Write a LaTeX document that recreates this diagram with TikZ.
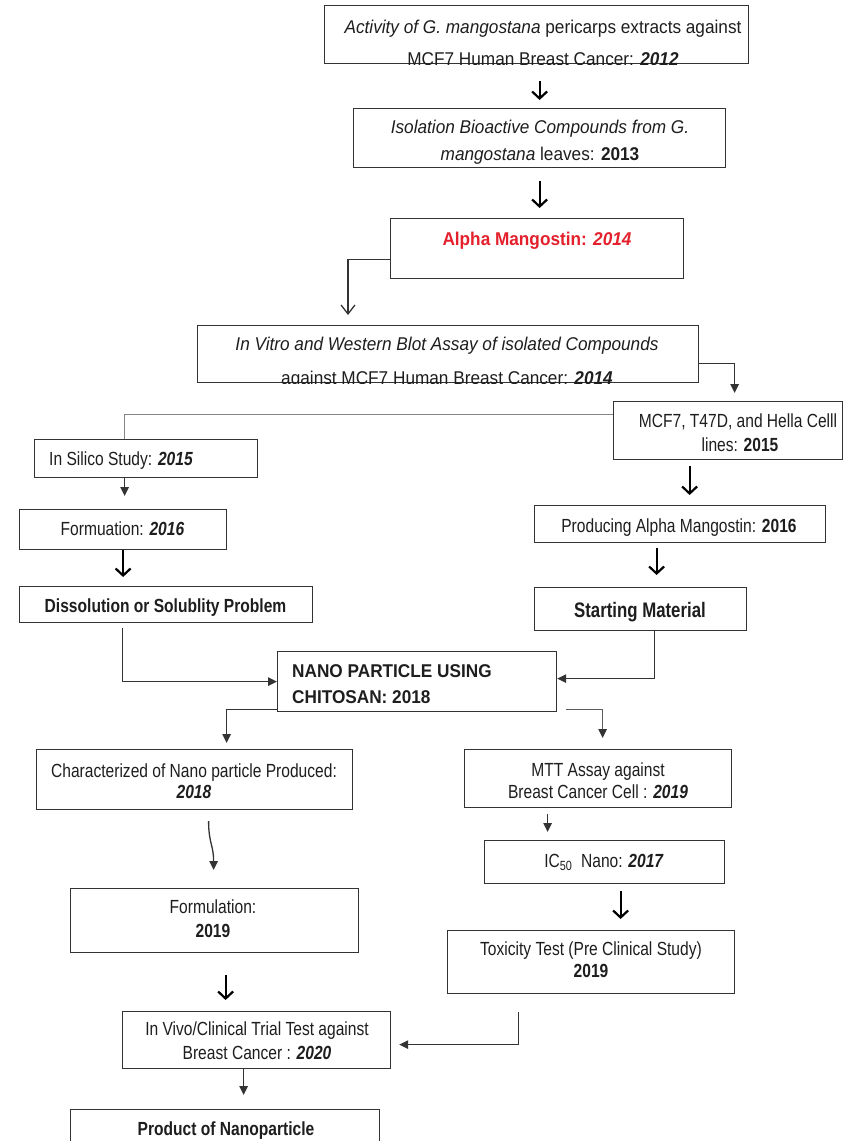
\documentclass[tikz,border=0pt]{standalone}
\usepackage{fontspec}
\newfontfamily\fn{Liberation Sans}[FakeStretch=0.82]
\newfontfamily\fw{Liberation Sans}[FakeStretch=0.93]
\newfontfamily\fs{Liberation Sans}[FakeStretch=0.80]
\usetikzlibrary{arrows.meta}
\definecolor{boxc}{HTML}{333333}
\definecolor{txtc}{HTML}{1E1E1E}
\definecolor{redc}{HTML}{E3202B}
\definecolor{grayc}{HTML}{858585}
\tikzset{
  box/.style={draw=boxc, line width=1.2pt, fill=white, inner sep=0pt, anchor=north west},
  tn/.style={anchor=base, inner sep=0pt, text=txtc, font=\fn\fontsize{19}{22}\selectfont},
  tw/.style={anchor=base, inner sep=0pt, text=txtc, font=\fw\fontsize{18.5}{22}\selectfont},
  tbig/.style={anchor=base, inner sep=0pt, text=txtc, font=\fs\fontsize{21}{24}\selectfont},
  bigarrow/.style={draw=black, line width=2.2pt, -{Straight Barb[length=7pt,width=15pt]}},
  openarrow/.style={draw=boxc, line width=1.3pt, -{Straight Barb[length=9pt,width=14pt]}},
  smallarrow/.style={draw=boxc, line width=1.3pt, -{Triangle[length=9pt,width=8.5pt]}},
  grayline/.style={draw=grayc, line width=1.5pt},
  grayarrow/.style={draw=grayc!70!black, line width=1.4pt, -{Triangle[length=9pt,width=8.5pt,color=boxc]}}
}
\begin{document}
\begin{tikzpicture}[x=1pt,y=-1pt]
\useasboundingbox (0,0) rectangle (843,1141);
\fill[white] (0,0) rectangle (843,1141);

% boxes
\node[box, minimum width=424pt, minimum height=58pt] (b1) at (324,5) {};
\node[box, minimum width=372pt, minimum height=59pt] (b2) at (353,108) {};
\node[box, minimum width=293pt, minimum height=60pt] (b3) at (390,218) {};
\node[box, minimum width=501pt, minimum height=57pt] (b4) at (197,325) {};
\node[box, minimum width=229pt, minimum height=58pt] (b5) at (613,401) {};
\node[box, minimum width=223pt, minimum height=38pt] (b6) at (34,439) {};
\node[box, minimum width=207pt, minimum height=40pt] (b7) at (19,509) {};
\node[box, minimum width=293pt, minimum height=36pt] (b8) at (19,586) {};
\node[box, minimum width=279pt, minimum height=60pt] (b9) at (277,651) {};
\node[box, minimum width=291pt, minimum height=37pt] (b10) at (534,505) {};
\node[box, minimum width=212pt, minimum height=43pt] (b11) at (534,587) {};
\node[box, minimum width=316pt, minimum height=60pt] (b12) at (36,749) {};
\node[box, minimum width=267pt, minimum height=58pt] (b13) at (464,749) {};
\node[box, minimum width=288pt, minimum height=64pt] (b15) at (70,888) {};
\node[box, minimum width=268pt, minimum height=57pt] (b16) at (122,1011) {};
\node[box, minimum width=309pt, minimum height=50pt] (b17) at (70,1109) {};
\node[box, minimum width=240pt, minimum height=43pt] (b18) at (484,840) {};
\node[box, minimum width=287pt, minimum height=63pt] (b19) at (447,930) {};

% texts
\node[tw] (t1a) at (543,33) {\textit{Activity of G. mangostana} pericarps extracts against};
\begin{scope}
\clip (b1.south west) rectangle (b1.north east);
\node[tw] (t1b) at (543,65) {MCF7 Human Breast Cancer: \textbf{\textit{2012}}};
\end{scope}
\node[tw] (t2a) at (540,133) {\textit{Isolation Bioactive Compounds from G.}};
\node[tw] (t2b) at (540,160) {\textit{mangostana} leaves: \textbf{2013}};
\node[tw, text=redc] (t3) at (537,245) {\textbf{Alpha Mangostin: \textit{2014}}};
\node[tw] (t4a) at (447,350) {\textit{In Vitro and Western Blot Assay of isolated Compounds}};
\begin{scope}
\clip (b4.south west) rectangle (b4.north east);
\node[tw] (t4b) at (447,384.5) {against MCF7 Human Breast Cancer: \textbf{\textit{2014}}};
\end{scope}
\node[tn] (t5a) at (738,427) {MCF7, T47D, and Hella Celll};
\node[tn] (t5b) at (740,451) {lines: \textbf{2015}};
\node[tn, anchor=base west] (t6) at (49,465) {In Silico Study: \textbf{\textit{2015}}};
\node[tn] (t7) at (122.5,535) {Formuation: \textbf{\textit{2016}}};
\node[tn] (t8) at (165.5,612) {\textbf{Dissolution or Solublity Problem}};
\node[tw, anchor=base west] (t9a) at (292,677) {\textbf{NANO PARTICLE USING}};
\node[tw, anchor=base west] (t9b) at (292,703) {\textbf{CHITOSAN: 2018}};
\node[tn] (t10) at (679,532) {Producing Alpha Mangostin: \textbf{2016}};
\node[tbig] (t11) at (640,617) {\textbf{Starting Material}};
\node[tn] (t12a) at (194,777) {Characterized of Nano particle Produced:};
\node[tn] (t12b) at (194,798) {\textbf{\textit{2018}}};
\node[tn] (t13a) at (598,776) {MTT Assay against};
\node[tn] (t13b) at (598,798) {Breast Cancer Cell : \textbf{\textit{2019}}};
\node[tn] (t18) at (604,867) {IC\textsubscript{50}\ \ Nano: \textbf{\textit{2017}}};
\node[tn] (t15a) at (213,913) {Formulation:};
\node[tn] (t15b) at (213,937) {\textbf{2019}};
\node[tn] (t19a) at (591,955) {Toxicity Test (Pre Clinical Study)};
\node[tn] (t19b) at (591,977) {\textbf{2019}};
\node[tn] (t16a) at (257,1035) {In Vivo/Clinical Trial Test against};
\node[tn] (t16b) at (257,1059) {Breast Cancer : \textbf{\textit{2020}}};
\node[tn] (t17) at (226,1135) {\textbf{Product of Nanoparticle}};

% helper coordinates
\coordinate (p6) at ([xshift=-21.5pt]b6.south);
\coordinate (p8) at ([xshift=-43.5pt,yshift=-5pt]b8.south);
\coordinate (p11) at ([xshift=14pt]b11.south);
\coordinate (p5) at ([xshift=-38.5pt]b5.south);
\coordinate (p10) at ([xshift=-23.5pt]b10.south);
\coordinate (p15) at ([xshift=11pt]b15.south);
\coordinate (p16) at ([xshift=-13pt]b16.south);
\coordinate (p13) at ([xshift=-50.5pt]b13.south);
\coordinate (p18) at ([xshift=16pt]b18.south);

% connectors
\draw[bigarrow, shorten <=17pt, shorten >=8pt] (b2.north |- b1.south) -- (b2.north);
\draw[bigarrow, shorten <=13pt, shorten >=10pt] (b2.south) -- (b2.south |- b3.north);
\draw[openarrow] ([yshift=-11pt]b3.west) -| ([xshift=151pt,yshift=10pt]b4.north west);
\draw[smallarrow] ([yshift=-9.5pt]b4.east) -| ([xshift=6.5pt,yshift=8pt]b5.north);
\draw[grayline] ([yshift=16pt]b5.west) -| ([xshift=-21.5pt]b6.north);
\draw[smallarrow, shorten >=13pt] (p6) -- (p6 |- b7.north);
\draw[bigarrow, shorten >=9pt] (b7.south) -- (b7.south |- b8.north);
\draw[smallarrow] (p8) |- (b9.west);
\draw[bigarrow, shorten <=6pt, shorten >=10pt] (p5) -- (p5 |- b10.north);
\draw[bigarrow, shorten <=5pt, shorten >=12pt] (p10) -- (p10 |- b11.north);
\draw[smallarrow] (p11) |- ([yshift=3pt]b9.east);
\draw[smallarrow] ([yshift=3pt]b9.south west) -| ([xshift=32pt,yshift=6pt]b12.north);
\draw[grayarrow] ([xshift=9pt,yshift=3pt]b9.south east) -| ([xshift=4.5pt,yshift=11pt]b13.north);
\draw[smallarrow] ([xshift=14pt,yshift=-11pt]b12.south) .. controls +(0,22) and +(0,-25) .. ([xshift=-1pt,yshift=18pt]b15.north);
\draw[smallarrow, shorten <=6pt, shorten >=8pt] (p13) -- (p13 |- b18.north);
\draw[bigarrow, shorten <=7pt, shorten >=11pt] (p18) -- (p18 |- b19.north);
\draw[bigarrow, shorten <=22pt, shorten >=11pt] (p15) -- (p15 |- b16.north);
\draw[smallarrow] ([xshift=-72.5pt,yshift=-18pt]b19.south) |- ([xshift=8pt,yshift=-4.5pt]b16.east);
\draw[smallarrow, shorten >=14pt] (p16) -- (p16 |- b17.north);
\end{tikzpicture}
\end{document}
